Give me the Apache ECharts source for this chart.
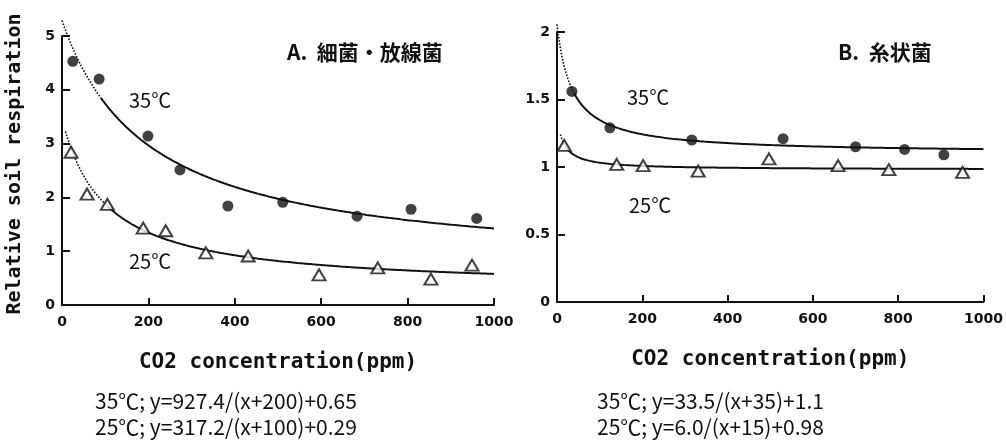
<!DOCTYPE html>
<html>
<head>
<meta charset="utf-8">
<script src="https://cdn.jsdelivr.net/npm/echarts@6/dist/echarts.min.js"></script>
<style>
  html, body { margin: 0; padding: 0; background: #fff; }
  #chart { width: 1006px; height: 446px; }
</style>
</head>
<body>
<div id="chart"></div>
<script>
// A. 細菌・放線菌
const co2A35 = [25, 86, 199, 273, 384, 511, 683, 808, 960];
const respA35 = [4.53, 4.20, 3.14, 2.51, 1.84, 1.91, 1.65, 1.78, 1.61];
const co2A25 = [21, 58, 105, 188, 240, 333, 431, 595, 731, 854, 949];
const respA25 = [2.84, 2.06, 1.87, 1.43, 1.38, 0.97, 0.91, 0.56, 0.69, 0.48, 0.74];
// B. 糸状菌
const co2B35 = [35, 124, 316, 530, 700, 815, 907];
const respB35 = [1.56, 1.29, 1.20, 1.21, 1.15, 1.13, 1.09];
const co2B25 = [17, 140, 202, 331, 497, 659, 778, 951];
const respB25 = [1.16, 1.02, 1.01, 0.97, 1.06, 1.01, 0.98, 0.96];

// fitted curves printed under the panels: y = a/(x+b)+c
const fitA35 = [927.4, 200, 0.65];
const fitA25 = [317.2, 100, 0.29];
const fitB35 = [33.5, 35, 1.1];
const fitB25 = [6.0, 15, 0.98];
// x where the dotted (extrapolated) part starts / turns solid
const spanA35 = [0, 90];
const spanA25 = [8, 105];
const spanB35 = [0, 40];
const spanB25 = [8, 22];

const xTicks = [0, 200, 400, 600, 800, 1000];
const eqA = ['35℃; y=927.4/(x+200)+0.65', '25℃; y=317.2/(x+100)+0.29'];
const eqB = ['35℃; y=33.5/(x+35)+1.1', '25℃; y=6.0/(x+15)+0.98'];

function curve(fit, from, to, step) {
  const pts = [];
  for (let x = from; x < to; x += step) pts.push([x, fit[0] / (x + fit[1]) + fit[2]]);
  pts.push([to, fit[0] / (to + fit[1]) + fit[2]]);
  return pts;
}
function pairs(xs, ys) { return xs.map((x, i) => [x, ys[i]]); }

const black = '#111';
const tickFont = { color: black, fontFamily: 'DejaVu Sans', fontWeight: 'bold', fontSize: 14 };
const monoName = { color: black, fontFamily: 'DejaVu Sans Mono', fontWeight: 'bold', fontSize: 21 };

function xAx(idx) {
  return {
    gridIndex: idx, type: 'value', min: xTicks[0], max: xTicks[xTicks.length - 1], interval: 200,
    axisLine: { lineStyle: { color: black, width: 2 } },
    axisTick: { inside: true, length: 7, lineStyle: { color: black, width: 2 } },
    axisLabel: Object.assign({ margin: 10, formatter: v => String(v) }, tickFont),
    splitLine: { show: false },
    name: 'CO2 concentration(ppm)', nameLocation: 'middle', nameGap: 47, nameTextStyle: monoName
  };
}
function yAx(idx, max, interval) {
  return {
    gridIndex: idx, type: 'value', min: 0, max: max, interval: interval,
    axisLine: { lineStyle: { color: black, width: 2 } },
    axisTick: { inside: true, length: 8, lineStyle: { color: black, width: 2 } },
    axisLabel: Object.assign({ margin: 7, formatter: v => String(v) }, tickFont),
    splitLine: { show: false }
  };
}
function fitSeries(idx, fit, span) {
  return [
    { type: 'line', xAxisIndex: idx, yAxisIndex: idx, data: curve(fit, span[0], span[1], 2),
      showSymbol: false, clip: false, z: 1, lineStyle: { color: black, width: 1.6, type: 'dotted' } },
    { type: 'line', xAxisIndex: idx, yAxisIndex: idx, data: curve(fit, span[1], 1000, 5),
      showSymbol: false, clip: false, z: 1, lineStyle: { color: black, width: 2 } }
  ];
}
function dots(idx, xs, ys) {
  return { type: 'scatter', xAxisIndex: idx, yAxisIndex: idx, data: pairs(xs, ys), z: 3,
    symbol: 'circle', symbolSize: 11, itemStyle: { color: black } };
}
function tris(idx, xs, ys) {
  return { type: 'scatter', xAxisIndex: idx, yAxisIndex: idx, data: pairs(xs, ys), z: 3,
    symbol: 'triangle', symbolSize: [13, 11], itemStyle: { color: '#fff', borderColor: black, borderWidth: 2 } };
}
function label(x, y, text, font, align) {
  return { type: 'text', x: x, y: y, z: 10,
    style: { text: text, font: font, fill: black, textAlign: align || 'left', align: align || 'left',
      textVerticalAlign: 'middle', verticalAlign: 'middle' } };
}

const cjk = '"Noto Sans CJK JP"';
const chart = echarts.init(document.getElementById('chart'));
chart.setOption({
  animation: false,
  grid: [
    { left: 62, top: 36, width: 432, height: 269 },
    { left: 557, top: 32, width: 427, height: 270 }
  ],
  xAxis: [xAx(0), xAx(1)],
  yAxis: [yAx(0, 5, 1), yAx(1, 2, 0.5)],
  series: [].concat(
    fitSeries(0, fitA35, spanA35), fitSeries(0, fitA25, spanA25),
    fitSeries(1, fitB35, spanB35), fitSeries(1, fitB25, spanB25),
    [dots(0, co2A35, respA35), tris(0, co2A25, respA25), dots(1, co2B35, respB35), tris(1, co2B25, respB25)]
  ),
  graphic: [
    { type: 'text', x: 15, y: 164, rotation: Math.PI / 2, z: 10,
      style: { text: 'Relative soil respiration', font: 'bold 20px "DejaVu Sans Mono"', fill: black,
        textAlign: 'center', align: 'center', textVerticalAlign: 'middle', verticalAlign: 'middle' } },
    label(287, 52, 'A.  細菌・放線菌', 'bold 21px ' + cjk),
    label(838, 52, 'B.  糸状菌', 'bold 21px ' + cjk),
    label(129, 100, '35℃', '20px ' + cjk),
    label(129, 261, '25℃', '20px ' + cjk),
    label(627, 97, '35℃', '20px ' + cjk),
    label(629, 205, '25℃', '20px ' + cjk),
    label(95, 401, eqA[0], '21px ' + cjk),
    label(95, 427, eqA[1], '21px ' + cjk),
    label(597, 401, eqB[0], '21px ' + cjk),
    label(597, 427, eqB[1], '21px ' + cjk)
  ]
});
</script>
</body>
</html>
